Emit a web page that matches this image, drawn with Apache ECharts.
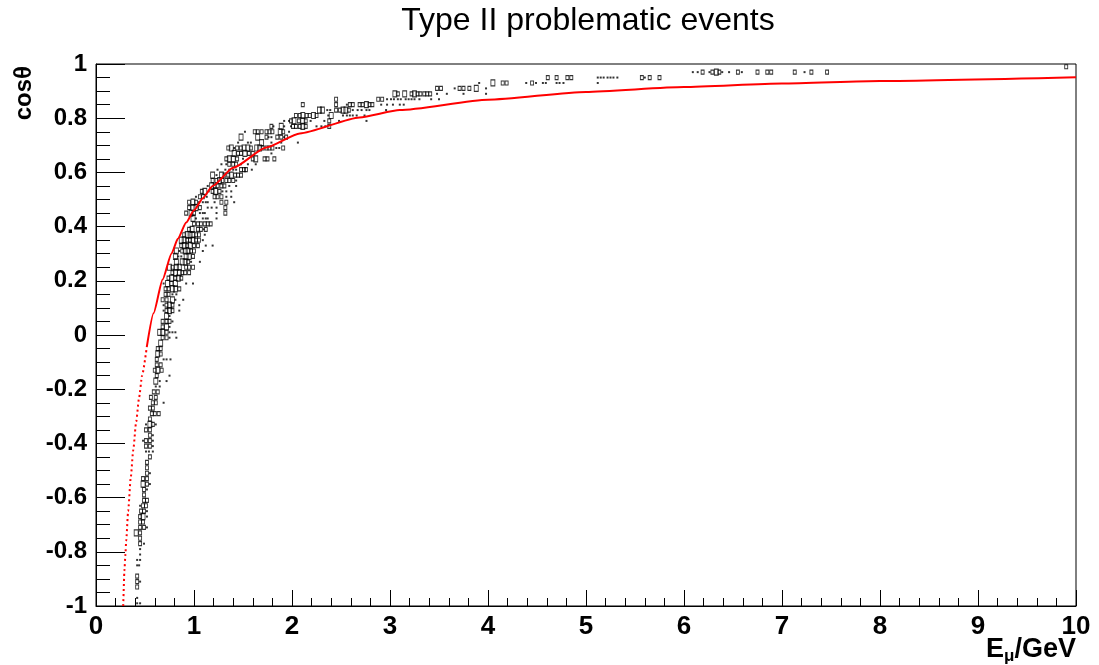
<!DOCTYPE html>
<html>
<head>
<meta charset="utf-8">
<title>Type II problematic events</title>
<script src="https://cdn.jsdelivr.net/npm/echarts@6/dist/echarts.min.js"></script>
<style>
html, body { margin: 0; padding: 0; background: #fff; }
#main { width: 1099px; height: 665px; }
</style>
</head>
<body>
<div id="main"></div>
<script>
// red reference curve (E in GeV -> cos theta)
var curveE   = [0.278, 0.29, 0.30, 0.308, 0.328, 0.355, 0.38, 0.41, 0.44, 0.47, 0.518,
                0.587, 0.68, 0.77, 0.835, 0.92, 1.0, 1.09, 1.19, 1.40, 1.737, 2.08, 2.69,
                3.10, 4.0, 5.0, 6.0, 7.0, 8.0, 10.0];
var curveCos = [-1.0, -0.87, -0.81, -0.76, -0.65, -0.525, -0.425, -0.32, -0.23, -0.15, -0.045,
                0.08, 0.205, 0.30, 0.355, 0.415, 0.46, 0.505, 0.55, 0.617, 0.692, 0.744, 0.803,
                0.83, 0.868, 0.897, 0.915, 0.928, 0.937, 0.951];
var dottedUpTo = 0.518; // below this energy the curve shows as separate dots

// 2D histogram cells: [cos theta of the row, [E, content, E, content, ...]]
var boxRows = [
  [0.99, [9.90,2]],
  [0.97, [6.09,1, 6.14,1, 6.19,2, 6.26,1, 6.29,2, 6.33,3, 6.36,2, 6.39,1, 6.46,1, 6.55,2, 6.59,1, 6.75,2, 6.85,2, 6.89,2, 7.13,2, 7.23,1, 7.30,2, 7.46,2]],
  [0.95, [4.61,2, 4.70,2, 4.81,2, 4.85,2, 5.12,1, 5.15,1, 5.18,1, 5.22,1, 5.25,1, 5.28,1, 5.32,1, 5.57,2, 5.60,1, 5.65,2, 5.75,2]],
  [0.93, [3.91,1, 4.05,3, 4.15,2, 4.19,2, 4.39,1, 4.45,2, 4.49,1, 4.56,1, 4.59,1, 4.70,1, 4.73,1, 4.77,1, 5.12,1]],
  [0.91, [3.48,2, 3.52,2, 3.66,1, 3.71,2, 3.75,2, 3.81,2, 3.88,3, 3.98,1]],
  [0.89, [3.05,3, 3.08,2, 3.15,3, 3.22,2, 3.25,3, 3.28,2, 3.31,2, 3.35,2, 3.38,2, 3.41,2, 3.48,1, 3.58,1, 3.75,1, 3.98,1]],
  [0.87, [2.45,2, 2.88,2, 2.92,2, 2.97,1, 3.01,1, 3.04,1, 3.08,1, 3.11,1, 3.16,1, 3.19,1, 3.22,1, 3.25,1, 3.30,1, 3.42,1, 3.50,1]],
  [0.85, [2.11,2, 2.45,2, 2.56,1, 2.59,2, 2.62,2, 2.69,2, 2.72,2, 2.76,3, 2.79,2, 2.82,2, 2.91,1, 2.97,1, 3.03,1, 3.10,1, 3.14,1]],
  [0.83, [2.28,3, 2.31,3, 2.36,1, 2.39,1, 2.45,2, 2.49,2, 2.52,3, 2.55,3, 2.58,2, 2.62,1, 2.67,1, 2.71,1, 2.76,1, 2.79,1, 2.96,1]],
  [0.81, [2.04,2, 2.08,2, 2.11,3, 2.15,2, 2.18,2, 2.22,3, 2.25,2, 2.37,1, 2.40,3, 2.52,1, 2.56,1, 2.59,1, 2.62,1, 2.66,1, 2.74,1]],
  [0.79, [1.92,1, 1.97,1, 1.99,2, 2.02,3, 2.07,2, 2.11,3, 2.14,2, 2.19,1, 2.33,1, 2.38,2, 2.48,1, 2.76,1]],
  [0.77, [1.79,2, 1.81,1, 1.89,3, 1.92,1, 1.99,1, 2.01,2, 2.04,2, 2.08,2, 2.11,3, 2.14,2, 2.25,1, 2.30,1, 2.34,1, 2.38,2]],
  [0.75, [1.52,1, 1.62,2, 1.65,2, 1.69,2, 1.74,2, 1.77,2, 1.80,2, 1.88,3, 1.91,2, 1.97,1]],
  [0.73, [1.48,3, 1.65,3, 1.74,2, 1.76,1, 1.79,1, 1.85,2, 1.89,2, 1.92,1, 1.94,2]],
  [0.71, [1.45,1, 1.55,1, 1.58,1, 1.69,3, 1.79,1, 1.89,1, 2.06,1]],
  [0.69, [1.35,2, 1.38,3, 1.41,1, 1.44,2, 1.48,2, 1.51,3, 1.55,3, 1.58,2, 1.64,3, 1.67,3, 1.70,2, 1.74,2, 1.77,2, 1.80,2, 1.84,1, 1.87,1, 1.91,2]],
  [0.67, [1.41,3, 1.45,2, 1.48,2, 1.52,3, 1.56,2, 1.60,2, 1.79,1]],
  [0.65, [1.33,2, 1.36,3, 1.40,3, 1.44,2, 1.50,1, 1.60,2, 1.63,3, 1.72,2, 1.75,2, 1.82,2]],
  [0.63, [1.28,1, 1.33,1, 1.36,2, 1.40,2, 1.43,2, 1.48,1, 1.55,1, 1.63,1]],
  [0.61, [1.24,1, 1.32,1, 1.36,1, 1.40,1, 1.43,1, 1.48,2, 1.51,2, 1.53,2, 1.59,1]],
  [0.59, [1.19,3, 1.23,1, 1.28,3, 1.31,2, 1.35,2, 1.38,3, 1.42,2, 1.45,2, 1.48,2]],
  [0.57, [1.19,2, 1.23,2, 1.26,3, 1.29,2, 1.33,2, 1.36,2, 1.40,2, 1.43,1]],
  [0.55, [1.14,1, 1.18,3, 1.21,2, 1.24,2, 1.28,2, 1.31,2, 1.36,1, 1.43,1]],
  [0.53, [1.08,2, 1.11,3, 1.15,1, 1.19,2, 1.22,3, 1.26,2, 1.29,1, 1.33,1, 1.38,1]],
  [0.51, [1.02,1, 1.06,2, 1.09,2, 1.13,1, 1.21,2, 1.24,2, 1.28,2, 1.33,1, 1.38,1]],
  [0.49, [0.95,2, 0.99,3, 1.02,2, 1.05,1, 1.09,1, 1.12,1, 1.14,1, 1.21,1, 1.28,2, 1.33,2, 1.41,1]],
  [0.47, [0.95,2, 0.99,3, 1.02,3, 1.06,2, 1.14,1, 1.18,1, 1.23,1, 1.32,2]],
  [0.45, [0.92,2, 0.97,3, 1.00,2, 1.06,1, 1.09,1, 1.11,1, 1.23,1, 1.32,2]],
  [0.43, [0.99,3, 1.02,1, 1.09,1, 1.12,1, 1.14,1, 1.23,1]],
  [0.41, [1.00,2, 1.04,2, 1.07,2, 1.11,2, 1.14,2, 1.17,2]],
  [0.39, [0.95,2, 0.98,3, 1.04,2, 1.07,2, 1.10,1, 1.12,2]],
  [0.37, [0.90,2, 0.93,3, 0.96,3, 0.99,3, 1.02,2, 1.05,2, 1.11,1]],
  [0.35, [0.87,3, 0.90,3, 0.93,2, 0.96,2, 0.99,3, 1.02,2, 1.05,2, 1.09,1]],
  [0.33, [0.87,2, 0.90,3, 0.93,2, 0.96,3, 1.00,2, 1.04,2, 1.12,1, 1.19,1]],
  [0.31, [0.82,3, 0.85,1, 0.88,2, 0.91,3, 0.94,3, 0.97,2, 1.00,2, 1.09,1]],
  [0.29, [0.81,3, 0.84,1, 0.87,1, 0.92,3, 0.95,3, 0.99,2]],
  [0.27, [0.82,3, 0.88,3, 0.91,3, 0.94,2, 0.97,1, 1.06,1]],
  [0.25, [0.75,3, 0.78,2, 0.82,3, 0.85,3, 0.92,2, 0.95,2, 0.99,2]],
  [0.23, [0.78,2, 0.81,3, 0.85,3, 0.88,2, 0.91,2, 0.95,2]],
  [0.21, [0.74,2, 0.77,3, 0.81,2, 0.84,3, 0.87,2]],
  [0.19, [0.69,1, 0.73,3, 0.77,2, 0.81,3, 0.92,1, 0.99,1]],
  [0.17, [0.71,2, 0.74,2, 0.78,3, 0.81,3, 0.85,2]],
  [0.15, [0.71,2, 0.74,2, 0.78,1, 0.82,1]],
  [0.13, [0.68,2, 0.72,2, 0.78,3, 0.81,1, 0.89,1]],
  [0.11, [0.69,1, 0.72,2, 0.75,3, 0.78,2, 0.85,1]],
  [0.09, [0.69,1, 0.72,2, 0.75,3, 0.78,2, 0.85,1]],
  [0.07, [0.72,3, 0.75,1]],
  [0.05, [0.68,2, 0.72,2, 0.75,2, 0.78,1]],
  [0.03, [0.68,2, 0.72,3, 0.75,1]],
  [0.01, [0.65,3, 0.68,3, 0.72,2, 0.75,1, 0.78,1, 0.81,1]],
  [-0.01, [0.68,2, 0.72,2, 0.75,1, 0.82,1]],
  [-0.03, [0.66,3]],
  [-0.05, [0.63,2, 0.66,2]],
  [-0.07, [0.63,3, 0.66,2]],
  [-0.09, [0.62,2, 0.69,1, 0.72,1, 0.76,1]],
  [-0.11, [0.62,2, 0.66,2]],
  [-0.13, [0.60,2, 0.63,3, 0.67,2]],
  [-0.15, [0.62,2, 0.75,1]],
  [-0.17, [0.61,3, 0.65,1, 0.72,1]],
  [-0.19, [0.61,1, 0.65,1]],
  [-0.21, [0.59,2, 0.63,2]],
  [-0.23, [0.56,2, 0.61,2]],
  [-0.25, [0.58,2, 0.61,2, 0.69,1]],
  [-0.27, [0.55,2, 0.58,2]],
  [-0.29, [0.57,2, 0.60,2, 0.64,2]],
  [-0.31, [0.55,2]],
  [-0.33, [0.51,1, 0.55,3, 0.58,2, 0.61,1]],
  [-0.35, [0.51,2, 0.55,2]],
  [-0.37, [0.55,2, 0.58,1]],
  [-0.39, [0.48,1, 0.51,2, 0.55,2, 0.58,1]],
  [-0.41, [0.51,2, 0.55,2, 0.58,1]],
  [-0.43, [0.51,1, 0.54,1, 0.58,1]],
  [-0.45, [0.55,2]],
  [-0.47, [0.52,2]],
  [-0.49, [0.52,2]],
  [-0.51, [0.52,2, 0.55,1]],
  [-0.53, [0.48,2, 0.52,2]],
  [-0.55, [0.48,3, 0.52,2, 0.55,1]],
  [-0.57, [0.49,2, 0.52,1]],
  [-0.59, [0.49,2]],
  [-0.61, [0.49,2, 0.52,2]],
  [-0.63, [0.45,1, 0.48,2, 0.51,2]],
  [-0.65, [0.46,2, 0.49,2, 0.52,1]],
  [-0.67, [0.45,2, 0.48,3, 0.52,1]],
  [-0.69, [0.45,2, 0.48,2]],
  [-0.71, [0.45,2, 0.49,2, 0.52,1]],
  [-0.73, [0.41,3, 0.45,2]],
  [-0.75, [0.45,2]],
  [-0.77, [0.45,2, 0.49,1]],
  [-0.79, [0.45,1]],
  [-0.81, [0.45,1]],
  [-0.83, [0.42,1, 0.45,1]],
  [-0.85, [0.42,1, 0.44,1]],
  [-0.89, [0.42,2]],
  [-0.91, [0.42,2, 0.45,1]],
  [-0.93, [0.42,2]],
  [-0.97, [0.42,1]],
  [-0.99, [0.42,1, 0.45,1]]
];

var cells = [];
boxRows.forEach(function (row) {
    for (var i = 0; i < row[1].length; i += 2) {
        cells.push([row[1][i], row[0], row[1][i + 1]]);
    }
});

var curveLow = [], curveHigh = [];
for (var k = 0; k < curveE.length; k++) {
    if (curveE[k] <= dottedUpTo) curveLow.push([curveE[k], curveCos[k]]);
    if (curveE[k] >= dottedUpTo) curveHigh.push([curveE[k], curveCos[k]]);
}

var font = 'Liberation Sans';
var boxSizes = {1: [2, 2], 2: [3, 4], 3: [4, 6]};

function boxSeries(n) {
    return {
        type: 'scatter',
        symbol: 'rect',
        symbolSize: boxSizes[n],
        itemStyle: n === 1 ? { color: '#000' } : { color: 'rgba(255,255,255,0)', borderColor: '#000', borderWidth: 1 },
        data: cells.filter(function (c) { return c[2] === n; }),
        z: 3
    };
}

var chart = echarts.init(document.getElementById('main'));
chart.setOption({
    animation: false,
    backgroundColor: '#fff',
    title: {
        text: 'Type II problematic events',
        left: 583, top: 0, textAlign: 'center',
        textStyle: { fontFamily: font, fontWeight: 'normal', fontSize: 32, color: '#000' }
    },
    grid: { left: 96, right: 23, top: 64, bottom: 59, show: true, borderColor: '#000', borderWidth: 1 },
    xAxis: {
        type: 'value', min: 0, max: 10, interval: 1,
        axisLine: { onZero: false, lineStyle: { color: '#000', width: 1 } },
        axisTick: { inside: true, length: 16, lineStyle: { color: '#000' } },
        minorTick: { show: true, splitNumber: 5, length: 8, lineStyle: { color: '#000' } },
        splitLine: { show: false },
        axisLabel: { color: '#000', fontFamily: font, fontWeight: 'bold', fontSize: 26, margin: 8 }
    },
    yAxis: {
        type: 'value', min: -1, max: 1, interval: 0.2,
        axisLine: { onZero: false, lineStyle: { color: '#000', width: 1 } },
        axisTick: { inside: true, length: 29, lineStyle: { color: '#000' } },
        minorTick: { show: true, splitNumber: 4, length: 14, lineStyle: { color: '#000' } },
        splitLine: { show: false },
        axisLabel: {
            color: '#000', fontFamily: font, fontWeight: 'bold', fontSize: 24, margin: 9,
            formatter: function (v) { return String(Math.round(v * 10) / 10); }
        }
    },
    graphic: [
        {
            type: 'text', x: 24, y: 66, rotation: Math.PI / 2,
            style: { text: 'cosθ', font: 'bold 24px ' + font, fill: '#000', align: 'right', verticalAlign: 'middle' }
        },
        {
            type: 'text', x: 1076, y: 636,
            style: {
                text: '{t|E}{s|μ}{t|/GeV}', align: 'right', verticalAlign: 'top', fill: '#000',
                rich: {
                    t: { fontFamily: font, fontWeight: 'bold', fontSize: 27, lineHeight: 26, verticalAlign: 'top' },
                    s: { fontFamily: font, fontWeight: 'bold', fontSize: 17, lineHeight: 16, padding: [12, 0, 0, 0], verticalAlign: 'top' }
                }
            }
        }
    ],
    series: [
        boxSeries(1), boxSeries(2), boxSeries(3),
        {
            type: 'line', data: curveLow, showSymbol: false, smooth: 0.2, smoothMonotone: 'x',
            lineStyle: { color: '#ff0000', width: 2, type: [2, 3] }, z: 4
        },
        {
            type: 'line', data: curveHigh, showSymbol: false, smooth: 0.2, smoothMonotone: 'x',
            lineStyle: { color: '#ff0000', width: 2 }, z: 4
        }
    ]
});
</script>
</body>
</html>
